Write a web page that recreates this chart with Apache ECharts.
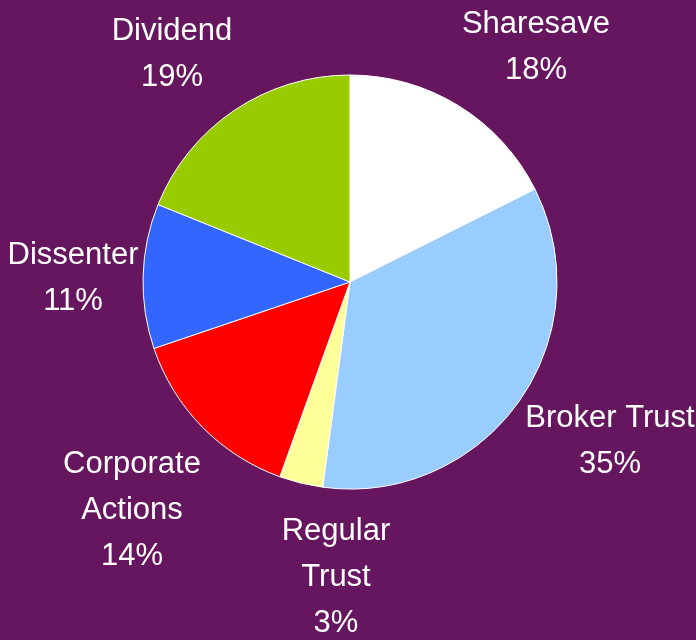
<!DOCTYPE html>
<html>
<head>
<meta charset="utf-8">
<script src="https://cdn.jsdelivr.net/npm/echarts@6/dist/echarts.min.js"></script>
<style>
  html, body { margin: 0; padding: 0; background: #66155f; }
  #chart { width: 696px; height: 640px; }
</style>
</head>
<body>
<div id="chart"></div>
<script>
const names = ['Sharesave', 'Broker Trust', 'Regular\nTrust', 'Corporate\nActions', 'Dissenter', 'Dividend']
// shares (labels show them rounded)
const values = [17.6, 34.5, 3.4, 14.3, 11.3, 18.9]
const colors = ['#ffffff', '#99ccff', '#ffff99', '#ff0000', '#3366ff', '#99cc00']

// label block centres, one per slice
const labelSpots = [[536, 47], [610, 441], [336, 577], [132, 510], [73, 278], [172, 54]]

const chart = echarts.init(document.getElementById('chart'), null, { renderer: 'canvas' })

chart.setOption({
  backgroundColor: '#66155f',
  animation: false,
  series: [{
    type: 'pie',
    center: [350, 282],
    radius: 207,
    startAngle: 90,
    clockwise: true,
    data: names.map((n, i) => ({ name: n, value: values[i], itemStyle: { color: colors[i] } })),
    itemStyle: { borderColor: '#ffffff', borderWidth: 1 },
    emphasis: { disabled: true },
    label: {
      show: true,
      position: 'outside',
      formatter: (p) => p.name + '\n' + Math.round(p.percent) + '%',
      color: '#ffffff',
      fontFamily: '"Liberation Sans Narrow", "Arial Narrow", "Liberation Sans", sans-serif',
      fontSize: 31,
      lineHeight: 46,
      align: 'center',
      overflow: 'none'
    },
    labelLine: { show: false },
    labelLayout: (p) => ({
      x: labelSpots[p.dataIndex][0],
      y: labelSpots[p.dataIndex][1],
      align: 'center',
      verticalAlign: 'middle'
    })
  }]
})
</script>
</body>
</html>
